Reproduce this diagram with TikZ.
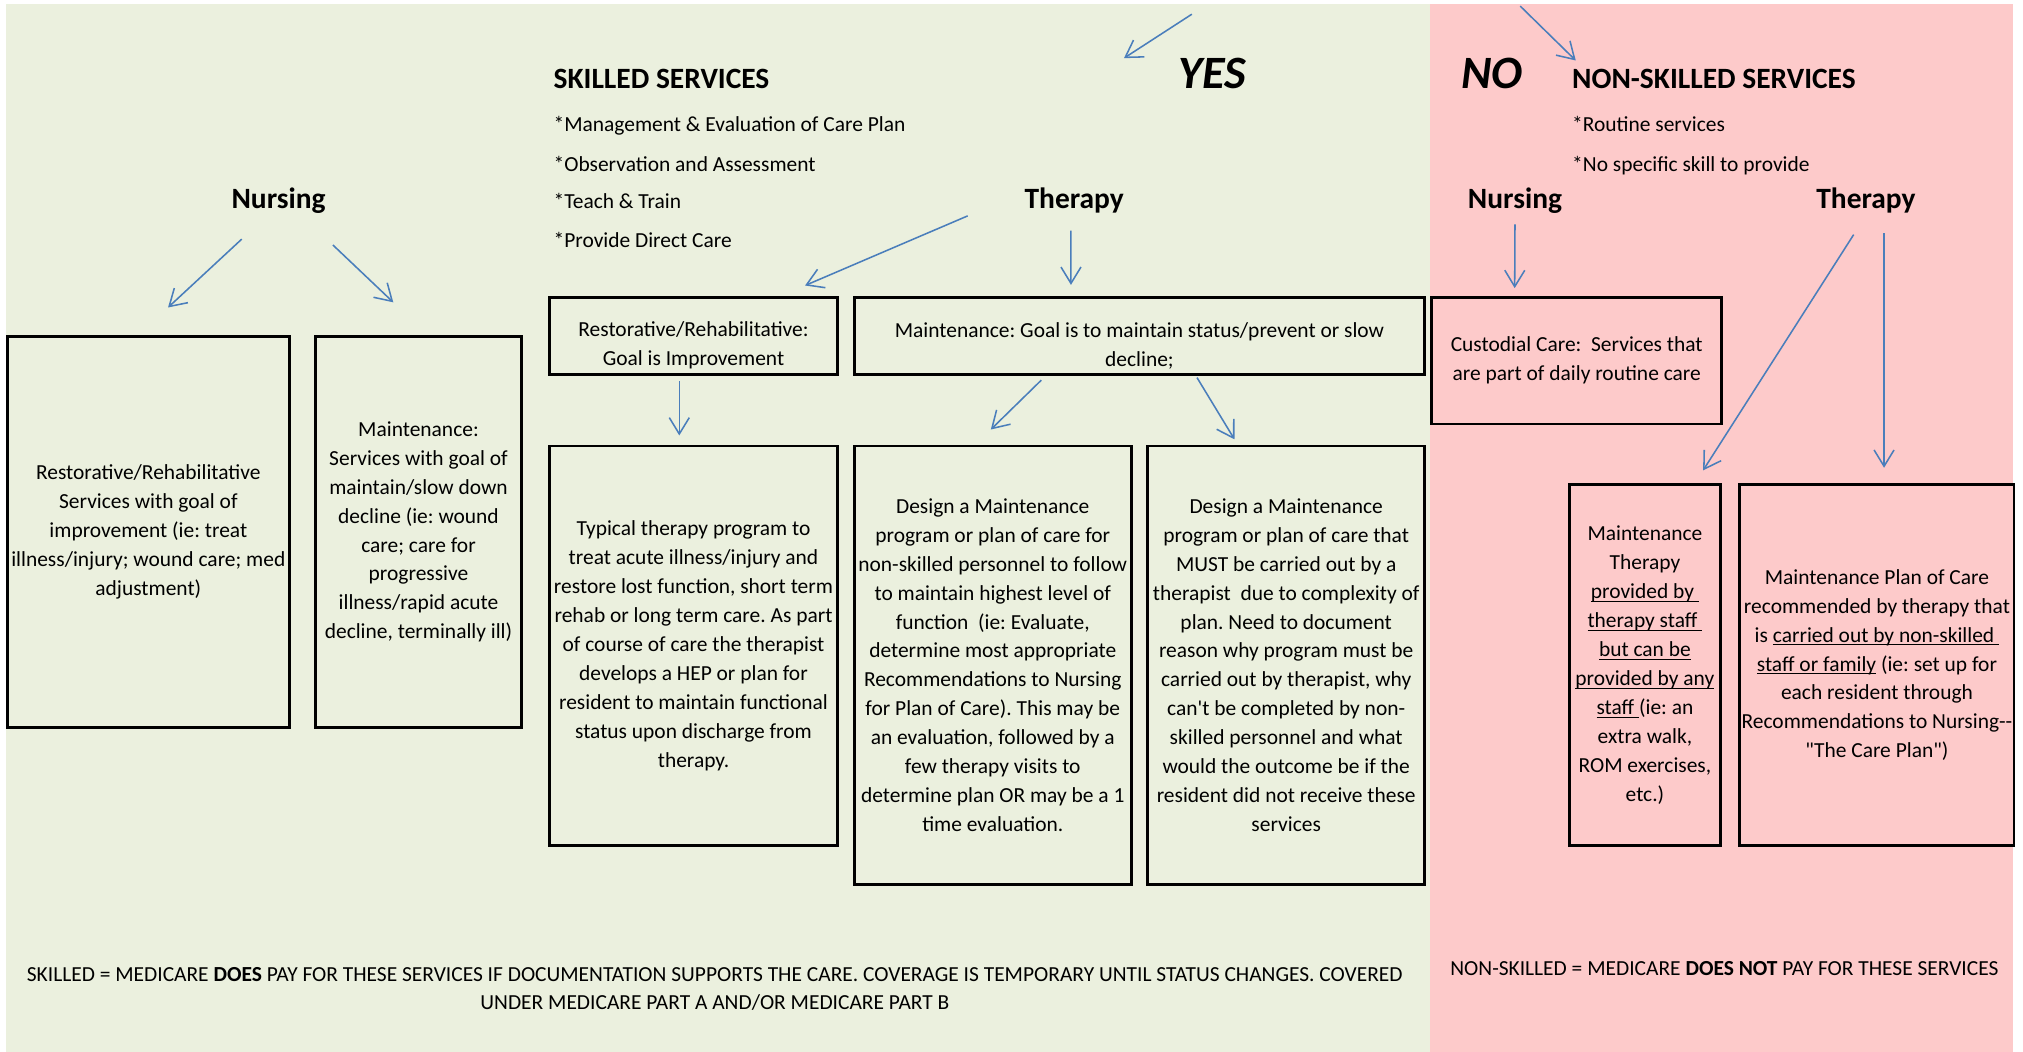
\documentclass[tikz,border=0pt]{standalone}
\usepackage{fontspec}
\setmainfont{Carlito}
\usepackage{xcolor}
\usetikzlibrary{arrows.meta,calc}

\definecolor{skillbg}{HTML}{EBF0DE}
\definecolor{nonbg}{HTML}{FDCACA}
\definecolor{linkblue}{HTML}{4A7EBB}
\newlength\pxl
\setlength\pxl{0.025cm}
\newcommand\bodyfont{\fontsize{11.8pt}{15.9pt}\selectfont}
\newcommand\headfont{\fontsize{16.2pt}{18pt}\selectfont\bfseries}
\newcommand\bigfont{\fontsize{25.5pt}{30pt}\selectfont\bfseries\itshape}
\newcommand\ulin[1]{\underline{\smash{#1}}}
\newcommand\lowstrut{\rule{0pt}{18.6pt}}
\frenchspacing

\tikzset{
    box/.style 2 args={draw, line width=1.6pt, align=center, inner sep=0pt, font=\bodyfont,
        minimum width=#1\pxl, minimum height=#2\pxl},
    head/.style={font=\headfont, inner sep=0pt},
    item/.style={font=\bodyfont, inner sep=0pt, anchor=base west},
    link/.style={draw=linkblue, line width=0.85pt, -{Straight Barb[length=9pt,width=11pt]}},
}

\begin{document}
\begin{tikzpicture}[x=0.025cm, y=-0.025cm]
        \useasboundingbox (0,0) rectangle (1565,813.8);
        \fill[skillbg] (5,3) rectangle (1106,813.8);
        \fill[nonbg] (1106,3) rectangle (1557,813.8);

        % skilled side
        \node[head, anchor=base west] (skl) at (428,68.8) {SKILLED SERVICES};
        \node[item] (sk1) at (428,102) {*Management \& Evaluation of Care Plan};
        \node[item] (sk2) at (428,132.5) {*Observation and Assessment};
        \node[item] (sk3) at (428,161.5) {*Teach \& Train};
        \node[item] (sk4) at (428,191.5) {*Provide Direct Care};
        \node[font=\bigfont, inner sep=0pt, anchor=base] (yes) at (938,68.8) {YES};
        \node[head, anchor=base] (nurA) at (215.5,161.5) {Nursing};
        \node[head, anchor=base] (therA) at (831,161.5) {Therapy};

        \node[box={218.5}{303}] (restN) at (114.75,411.5) {Restorative/Rehabilitative\\Services with goal of\\improvement (ie: treat\\illness/injury; wound care; med\\adjustment)};
        \node[box={159.5}{303}] (maintN) at (323.75,411.5) {Maintenance:\\Services with goal of\\maintain/slow down\\decline (ie: wound\\care; care for\\progressive\\illness/rapid acute\\decline, terminally ill)};
        \node[box={223}{60}] (restT) at (536.5,260) {\lowstrut Restorative/Rehabilitative:\\Goal is Improvement};
        \node[box={441}{60}] (maintT) at (881.5,260) {\lowstrut Maintenance: Goal is to maintain status/prevent or slow\\decline;};
        \node[box={223}{309}] (typical) at (536.5,499.5) {Typical therapy program to\\treat acute illness/injury and\\restore lost function, short term\\rehab or long term care. As part\\of course of care the therapist\\develops a HEP or plan for\\resident to maintain functional\\status upon discharge from\\therapy.};
        \node[box={214}{339}] (design1) at (768,514.5) {Design a Maintenance\\program or plan of care for\\non-skilled personnel to follow\\to maintain highest level of\\function~ (ie: Evaluate,\\determine most appropriate\\Recommendations to Nursing\\for Plan of Care). This may be\\an evaluation, followed by a\\few therapy visits to\\determine plan OR may be a 1\\time evaluation.};
        \node[box={214}{339}] (design2) at (995,514.5) {Design a Maintenance\\program or plan of care that\\MUST be carried out by a\\therapist~ due to complexity of\\plan. Need to document\\reason why program must be\\carried out by therapist, why\\can\textquotesingle t be completed by non-\\skilled personnel and what\\would the outcome be if the\\resident did not receive these\\services};

        % non-skilled side
        \node[font=\bigfont, inner sep=0pt, anchor=base] (no) at (1154,68.8) {NO};
        \node[head, anchor=base west] (nskl) at (1216,68.8) {NON-SKILLED SERVICES};
        \node[item] (ns1) at (1216,102) {*Routine services};
        \node[item] (ns2) at (1216,132.5) {*No specific skill to provide};
        \node[head, anchor=base] (nurB) at (1172,161.5) {Nursing};
        \node[head, anchor=base] (therB) at (1443.5,161.5) {Therapy};

        \node[box={224.5}{98}] (custodial) at (1219.75,279) {Custodial Care:~ Services that\\are part of daily routine care};
        \node[box={117}{279}] (mtherapy) at (1272.5,514.5) {Maintenance\\Therapy\\\ulin{provided by }\\\ulin{therapy staff }\\\ulin{but can be}\\\ulin{provided by any}\\\ulin{staff }(ie: an\\extra walk,\\ROM exercises,\\etc.)};
        \node[box={212}{279}] (mplan) at (1452,514.5) {Maintenance Plan of Care\\recommended by therapy that\\is \ulin{carried out by non-skilled }\\\ulin{staff or family} (ie: set up for\\each resident through\\Recommendations to Nursing-{}-\\\textquotedbl The Care Plan\textquotedbl)};

        % footers
        \node[font=\bodyfont, align=center, inner sep=0pt] (skfoot) at (553,765) {SKILLED = MEDICARE \textbf{DOES} PAY FOR THESE SERVICES IF DOCUMENTATION SUPPORTS THE CARE. COVERAGE IS TEMPORARY UNTIL STATUS CHANGES. COVERED\\UNDER MEDICARE PART A AND/OR MEDICARE PART B};
        \node[font=\bodyfont, inner sep=0pt, anchor=base] (nsfoot) at (1334,755) {NON-SKILLED = MEDICARE \textbf{DOES NOT} PAY FOR THESE SERVICES};

        % arrows
        \coordinate (topL) at (922,11);
        \coordinate (topR) at (1176,4.7);
        \draw[link] (topL) -- ($(yes.base)+(-68.5,-23.8)$);
        \draw[link] (topR) -- ($(nskl.base west)+(3,-22)$);
        \draw[link] ($(nurA.base)+(-28.5,23.5)$) -- ($(restN.north)+(15.25,-21)$);
        \draw[link] ($(nurA.base)+(42,28)$) -- ($(maintN.north)+(-19.5,-25)$);
        \draw[link] ($(therA.base)+(-82.4,5.5)$) -- ($(restT.north)+(86.3,-8)$);
        \draw[link] ($(therA.base)+(-2.5,17)$) -- ($(maintT.north)+(-53,-8.5)$);
        \draw[link] ($(restT.south)+(-11,4)$) -- ($(typical.north)+(-11,-7)$);
        \draw[link] ($(maintT.south)+(-76,3)$) -- ($(design1.north)+(-1.5,-11.6)$);
        \draw[link] ($(maintT.south)+(44.5,1)$) -- ($(design2.north)+(-40,-4)$);
        \draw[link] ($(nurB.base)+(0,12)$) -- ($(custodial.north)+(-48,-6)$);
        \draw[link] ($(therB.base)+(-9.5,20)$) -- ($(mtherapy.north)+(45,-10)$);
        \draw[link] ($(therB.base)+(14,19)$) -- ($(mplan.north)+(5.5,-12)$);
    \end{tikzpicture}
\end{document}
